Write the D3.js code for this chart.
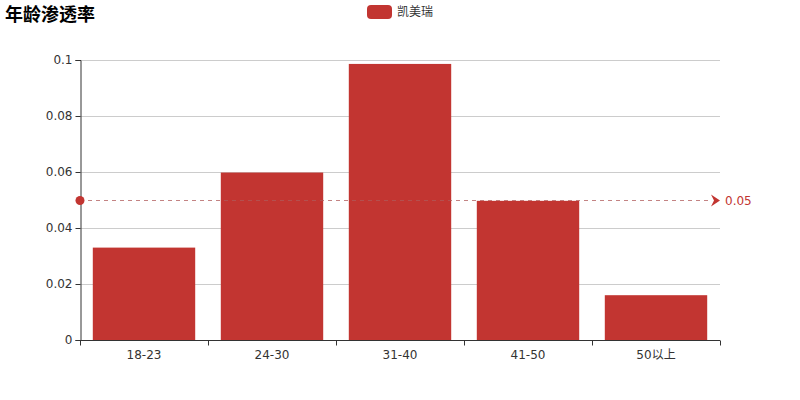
<!DOCTYPE html>
<html>
<head>
  <meta charset="UTF-8">
  <title>年龄渗透率</title>
  <style>
    body { margin: 0; background: #fff; }
    svg { font-family: "DejaVu Sans", "Noto Sans CJK SC", sans-serif; }
  </style>
</head>
<body>
  <script src="https://cdn.jsdelivr.net/npm/d3@7/dist/d3.min.js"></script>
  <script>
    // data
    const categories = ["18-23", "24-30", "31-40", "41-50", "50以上"];
    const values = [0.033, 0.0598, 0.0986, 0.0497, 0.016];
    const yTicks = [0, 0.02, 0.04, 0.06, 0.08, 0.1];
    const markValue = 0.05;
    const seriesName = "凯美瑞";
    const titleText = "年龄渗透率";

    const width = 800, height = 400;
    const margin = { top: 60, right: 80, bottom: 60, left: 80 };
    const color = "#c23531";

    const svg = d3.select("body").append("svg")
      .attr("width", width)
      .attr("height", height);

    const x = d3.scaleBand()
      .domain(categories)
      .range([margin.left, width - margin.right])
      .paddingInner(0.2)
      .paddingOuter(0.1);

    const y = d3.scaleLinear()
      .domain([0, 0.1])
      .range([height - margin.bottom, margin.top]);

    // grid lines
    svg.append("g")
      .selectAll("line")
      .data(yTicks.filter(d => d > 0))
      .enter()
      .append("line")
      .attr("x1", margin.left)
      .attr("x2", width - margin.right)
      .attr("y1", d => Math.round(y(d)) + 0.5)
      .attr("y2", d => Math.round(y(d)) + 0.5)
      .attr("stroke", "#ccc");

    // bars
    svg.append("g")
      .selectAll("rect")
      .data(values)
      .enter()
      .append("rect")
      .attr("x", (d, i) => x(categories[i]))
      .attr("y", d => y(d))
      .attr("width", x.bandwidth())
      .attr("height", d => y(0) - y(d))
      .attr("fill", color);

    // y axis
    const yAxis = svg.append("g")
      .attr("transform", `translate(${margin.left + 0.5},0)`)
      .call(d3.axisLeft(y).tickValues(yTicks).tickSize(5).tickPadding(3)
        .tickFormat(d => String(+d.toFixed(2))));
    yAxis.select(".domain").attr("stroke", "#333");
    yAxis.selectAll(".tick line").attr("stroke", "#333");
    yAxis.selectAll(".tick text").attr("fill", "#333").attr("font-size", 12)
      .style("font-family", "DejaVu Sans");

    // x axis: ticks on band edges
    const xg = svg.append("g")
      .attr("transform", `translate(0,${y(0) + 0.5})`);
    xg.append("line")
      .attr("x1", margin.left)
      .attr("x2", width - margin.right)
      .attr("stroke", "#333");
    const edges = categories.map(c => x(c) - x.step() * x.paddingInner() / 2);
    edges.push(width - margin.right);
    xg.selectAll(".edge")
      .data(edges)
      .enter()
      .append("line")
      .attr("x1", d => Math.round(d) + 0.5)
      .attr("x2", d => Math.round(d) + 0.5)
      .attr("y1", 0)
      .attr("y2", 5)
      .attr("stroke", "#333");
    xg.selectAll("text")
      .data(categories)
      .enter()
      .append("text")
      .attr("x", d => x(d) + x.bandwidth() / 2)
      .attr("y", 18)
      .attr("text-anchor", "middle")
      .attr("fill", "#333")
      .attr("font-size", 12)
      .text(d => d);

    // mark line
    const my = Math.round(y(markValue)) + 0.5;
    svg.append("line")
      .attr("x1", margin.left)
      .attr("x2", width - margin.right - 8)
      .attr("y1", my)
      .attr("y2", my)
      .attr("stroke", "#b05a5a")
      .attr("stroke-dasharray", "4,4")
      .attr("opacity", 0.75);
    svg.append("circle")
      .attr("cx", margin.left)
      .attr("cy", my)
      .attr("r", 4.5)
      .attr("fill", color);
    const ax = width - margin.right;
    svg.append("path")
      .attr("d", `M${ax - 9},${my - 6} L${ax},${my} L${ax - 9},${my + 6} L${ax - 6},${my} Z`)
      .attr("fill", color);
    svg.append("text")
      .attr("x", ax + 5)
      .attr("y", my)
      .attr("dy", "0.35em")
      .attr("fill", color)
      .attr("font-size", 12)
      .text(markValue);

    // title
    svg.append("text")
      .attr("x", 5)
      .attr("y", 21)
      .attr("font-size", 18)
      .attr("font-weight", "bold")
      .attr("fill", "#000")
      .style("font-family", "Noto Sans CJK SC")
      .text(titleText);

    // legend
    const lg = svg.append("g").attr("transform", "translate(367,5)");
    lg.append("rect")
      .attr("width", 25)
      .attr("height", 14)
      .attr("rx", 4)
      .attr("fill", color);
    lg.append("text")
      .attr("x", 30)
      .attr("y", 7)
      .attr("dy", "0.35em")
      .attr("font-size", 12)
      .attr("fill", "#333")
      .style("font-family", "Noto Sans CJK SC")
      .text(seriesName);
  </script>
</body>
</html>
